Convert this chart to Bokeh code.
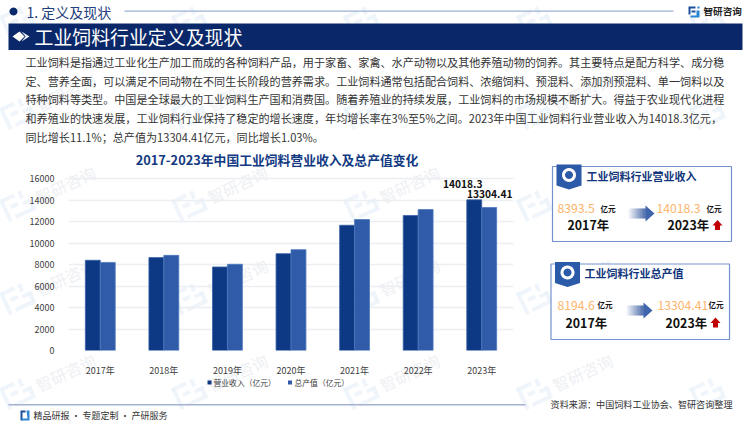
import math
from bokeh.plotting import figure
from bokeh.models import FactorRange, Range1d
from bokeh.transform import dodge
from bokeh.core.properties import value
from bokeh.embed import file_html
from bokeh.resources import INLINE

# ---- data ----
years = ["2017年", "2018年", "2019年", "2020年", "2021年", "2022年", "2023年"]
revenue = [8393.5, 8640, 7770, 9010, 11650, 12560, 14018.3]
output_value = [8194.6, 8850, 8020, 9380, 12180, 13110, 13304.41]
y_ticks = [0, 2000, 4000, 6000, 8000, 10000, 12000, 14000, 16000]
series_names = ["营业收入（亿元）", "总产值（亿元）"]
series_colors = ["#0d3883", "#2f5ba8"]
chart_title = "2017-2023年中国工业饲料营业收入及总产值变化"
body_lines = [
    "工业饲料是指通过工业化生产加工而成的各种饲料产品，用于家畜、家禽、水产动物以及其他养殖动物的饲养。其主要特点是配方科学、成分稳",
    "定、营养全面，可以满足不同动物在不同生长阶段的营养需求。工业饲料通常包括配合饲料、浓缩饲料、预混料、添加剂预混料、单一饲料以及",
    "特种饲料等类型。中国是全球最大的工业饲料生产国和消费国。随着养殖业的持续发展，工业饲料的市场规模不断扩大。得益于农业现代化进程",
    "和养殖业的快速发展，工业饲料行业保持了稳定的增长速度，年均增长率在3%至5%之间。2023年中国工业饲料行业营业收入为14018.3亿元，",
    "同比增长11.1%；总产值为13304.41亿元，同比增长1.03%。",
]

FONT = "Noto Sans CJK SC"
W, H = 750, 422
FL, FR, FT, FB = 68, 513, 168, 350   # chart frame in page pixels (16000 sits at y=178)
Y_MAX = 16000 * (FB - FT) / (FB - 178)

# ---- backdrop figure: page furniture in page pixels ----
bg = figure(width=W, height=H, output_backend="svg", toolbar_location=None,
            x_range=Range1d(0, W), y_range=Range1d(H, 0), x_axis_type=None, y_axis_type=None,
            min_border=0, background_fill_color="white", border_fill_color="white", outline_line_color=None)
bg.grid.visible = False

def txt(x, y, s, size, color="#333333", bold=False, align="left", angle=0, alpha=1.0):
    bg.text(x=[x], y=[y], text=[s], text_font=value(FONT), text_font_size=f"{size}px", text_color=color,
            text_font_style="bold" if bold else "normal", text_align=align, text_baseline="middle",
            angle=angle, angle_units="deg", text_alpha=alpha)

def box(l, t, r, b, fill=None, line=None, lw=1):
    bg.quad(left=[l], right=[r], top=[t], bottom=[b], fill_color=fill, fill_alpha=1 if fill else 0,
            line_color=line, line_width=lw, line_alpha=1 if line else 0)

def poly(pts, fill, alpha=1.0):
    bg.patch([a for a, _ in pts], [b for _, b in pts], fill_color=fill, fill_alpha=alpha, line_color=None)

def circle(cx, cy, r, fill):
    poly([(cx + r * math.cos(i * math.pi / 12), cy + r * math.sin(i * math.pi / 12)) for i in range(24)], fill)

# ---- watermark ----
def rot(cx, cy, dx, dy, a=-25):
    r = math.radians(a)
    return (cx + dx * math.cos(r) - dy * math.sin(r), cy + dx * math.sin(r) + dy * math.cos(r))

def mark(cx, cy, word=True):
    for (x0, y0, x1, y1) in [(-16, -12, 0, -8), (-16, -12, -12, 12), (-8, -3, 0, 1), (4, -12, 8, -4),
                             (4, -1, 14, 3), (10, -1, 14, 9), (-8, 8, 14, 12)]:
        poly([rot(cx, cy, x0, y0), rot(cx, cy, x1, y0), rot(cx, cy, x1, y1), rot(cx, cy, x0, y1)],
             "#ebf2f9", alpha=0.8)
    if word:
        txt(cx + 47, cy - 20, "智研咨询", 16, color="#eef0f3", angle=25, align="center")

for y0 in [20, 112, 204, 297, 392]:
    for x0 in [18, 190, 362, 535, 708]:
        mark(x0, y0, word=(y0 > 20 and x0 < 700))

# ---- header ----
circle(13, 11, 4, "#0b2a6b")
txt(26, 11, "1. 定义及现状", 14, color="#24407c")
box(124, 10, 673, 11.2, fill="#9db0d6")
poly([(688, 6), (695, 6), (695, 8), (690, 8), (690, 14), (688, 14)], "#1c4f9c")
poly([(691, 10), (695, 10), (695, 12), (691, 12)], "#1c4f9c")
poly([(697, 6), (699, 6), (699, 8), (697, 8)], "#2f86d0")
poly([(696, 10), (699, 10), (699, 17), (690, 17), (690, 15), (696, 15)], "#2f86d0")
txt(703, 10.5, "智研咨询", 9.6, color="#222222", bold=True)

# ---- banner ----
box(8, 23, 742, 49.5, fill="#0a2869")
poly([(12, 36), (19, 31), (24, 36), (19, 41)], "#ffffff")
poly([(21, 31), (29, 36), (21, 41), (25, 36)], "#e8ecf5")
txt(34, 35.5, "工业饲料行业定义及现状", 18.9, color="#ffffff")

# ---- body ----
for i, line in enumerate(body_lines):
    txt(25, 61.5 + i * 18.65, line, 11.1, color="#333333")

txt(276.5, 159, chart_title, 12.8, color="#123a82", bold=True, align="center")

# ---- legend ----
box(207, 380, 211, 384, fill=series_colors[0])
txt(213, 381.7, series_names[0], 7.8, color="#404040")
box(287.5, 380, 291.5, 384, fill=series_colors[1])
txt(294, 381.7, series_names[1], 7.8, color="#404040")

# ---- cards ----
def arrow(x0, x1, yc, half, head):
    n = 12
    c0, c1 = (255, 255, 255), (52, 88, 160)
    xm = x1 - head
    for i in range(n):
        a, b = x0 + (xm - x0) * i / n, x0 + (xm - x0) * (i + 1) / n + 0.4
        t = (i + 1) / n
        col = "#%02x%02x%02x" % tuple(int(c0[k] + (c1[k] - c0[k]) * t * 0.85) for k in range(3))
        poly([(a, yc - half), (b, yc - half), (b, yc + half), (a, yc + half)], col)
    poly([(xm, yc - half - 3), (x1, yc), (xm, yc + half + 3)], "#3f66ad")

def up(xc, top, bottom, w):
    poly([(xc, top), (xc + w / 2, top + 5.5), (xc + w / 4, top + 5.5), (xc + w / 4, bottom),
          (xc - w / 4, bottom), (xc - w / 4, top + 5.5), (xc - w / 2, top + 5.5)], "#c00000")

def card(l, t, r, b, title, tx, v0, v1, v0x, u0x, v1x, u1x, y0x, y1x, vy, yy, ax0, ax1, ay, upx):
    box(l, t, r, b, fill="#ffffff", line="#7391cc", lw=1.2)
    rl = l + 4
    poly([(rl, t - 2), (rl + 25, t - 2), (rl + 25, t + 19), (rl + 12.5, t + 23), (rl, t + 19)], "#2b5aa8")
    cx, cy = rl + 12.5, t + 8.5
    circle(cx, cy, 7, "#ffffff")
    circle(cx, cy, 4, "#2b5aa8")
    txt(tx, t + 9, title, 11, color="#12367c", bold=True)
    txt(v0x, vy, v0, 12.2, color="#fdb46c")
    txt(u0x, vy - 0.5, "亿元", 7.6, color="#111111", bold=True)
    txt(v1x, vy, v1, 12.2, color="#fdb46c")
    txt(u1x, vy - 0.5, "亿元", 7.6, color="#111111", bold=True)
    txt(y0x, yy, "2017年", 12.4, color="#111111", bold=True)
    txt(y1x, yy, "2023年", 12.4, color="#111111", bold=True)
    arrow(ax0, ax1, ay, 5, 9)
    up(upx, yy - 5, yy + 5, 10)

card(552, 166, 731, 241, "工业饲料行业营业收入", 586, "8393.5", "14018.3", 557, 600, 656, 706, 567, 667,
     208, 224.5, 628, 654, 213, 717)
card(550.5, 263.5, 729, 339, "工业饲料行业总产值", 584, "8194.6", "13304.41", 557, 597, 657, 708, 565, 665,
     304.5, 322, 626, 652, 310, 715)

# ---- footer ----
box(8, 403.4, 525, 405, fill="#a3b2cf")
txt(732, 403, "资料来源：中国饲料工业协会、智研咨询整理", 9.1, color="#333333", align="right")
poly([(20, 410), (25, 410), (25, 412), (22, 412), (22, 420), (20, 420)], "#1c4f9c")
poly([(26, 410), (29, 410), (29, 420), (21, 420), (21, 418), (27, 418)], "#2f86d0")
txt(33, 415, "精品研报 · 专题定制 · 产研服务", 9, color="#333333")

# ---- chart figure, transparent, laid over the backdrop ----
p = figure(width=W, height=H, output_backend="svg", toolbar_location=None,
           x_range=FactorRange(*years, range_padding=0), y_range=Range1d(0, Y_MAX),
           min_border_left=FL, min_border_right=W - FR, min_border_top=FT, min_border_bottom=H - FB,
           background_fill_color=None, border_fill_color=None, outline_line_color=None,
           styles={"position": "absolute", "top": "0px", "left": "0px"})

BW = 0.235
src = dict(x=years, rev=revenue, out=output_value)
p.vbar(x=dodge("x", -BW / 2, range=p.x_range), top="rev", width=BW, source=src,
       fill_color=series_colors[0], line_color="#3a62aa", line_width=0.8)
p.vbar(x=dodge("x", BW / 2, range=p.x_range), top="out", width=BW, source=src,
       fill_color=series_colors[1], line_color="#4e78bd", line_width=0.8)

p.text(x=years[-1:], y=revenue[-1:], text=[str(revenue[-1])], text_font=value(FONT), text_font_size="10.2px",
       text_font_style="bold", text_color="#111111", text_align="center", text_baseline="bottom",
       x_offset=-19, y_offset=-12)
p.text(x=years[-1:], y=output_value[-1:], text=[str(output_value[-1])], text_font=value(FONT), text_font_size="10.2px",
       text_font_style="bold", text_color="#111111", text_align="center", text_baseline="bottom",
       x_offset=8, y_offset=-9)

p.yaxis.ticker = y_ticks
p.xgrid.visible = False
p.ygrid.grid_line_color = "#eceef2"
p.ygrid.grid_line_width = 1.5
p.ygrid.ticker = y_ticks
for ax in (p.xaxis[0], p.yaxis[0]):
    ax.axis_line_color = None
    ax.major_tick_line_color = None
    ax.minor_tick_line_color = None
    ax.major_label_text_font = FONT
    ax.major_label_text_color = "#404040"
    ax.major_label_text_font_size = "9px"
p.yaxis[0].major_label_standoff = 8
p.xaxis[0].major_label_standoff = 7

open("out.html", "w").write(file_html([bg, p], INLINE))
